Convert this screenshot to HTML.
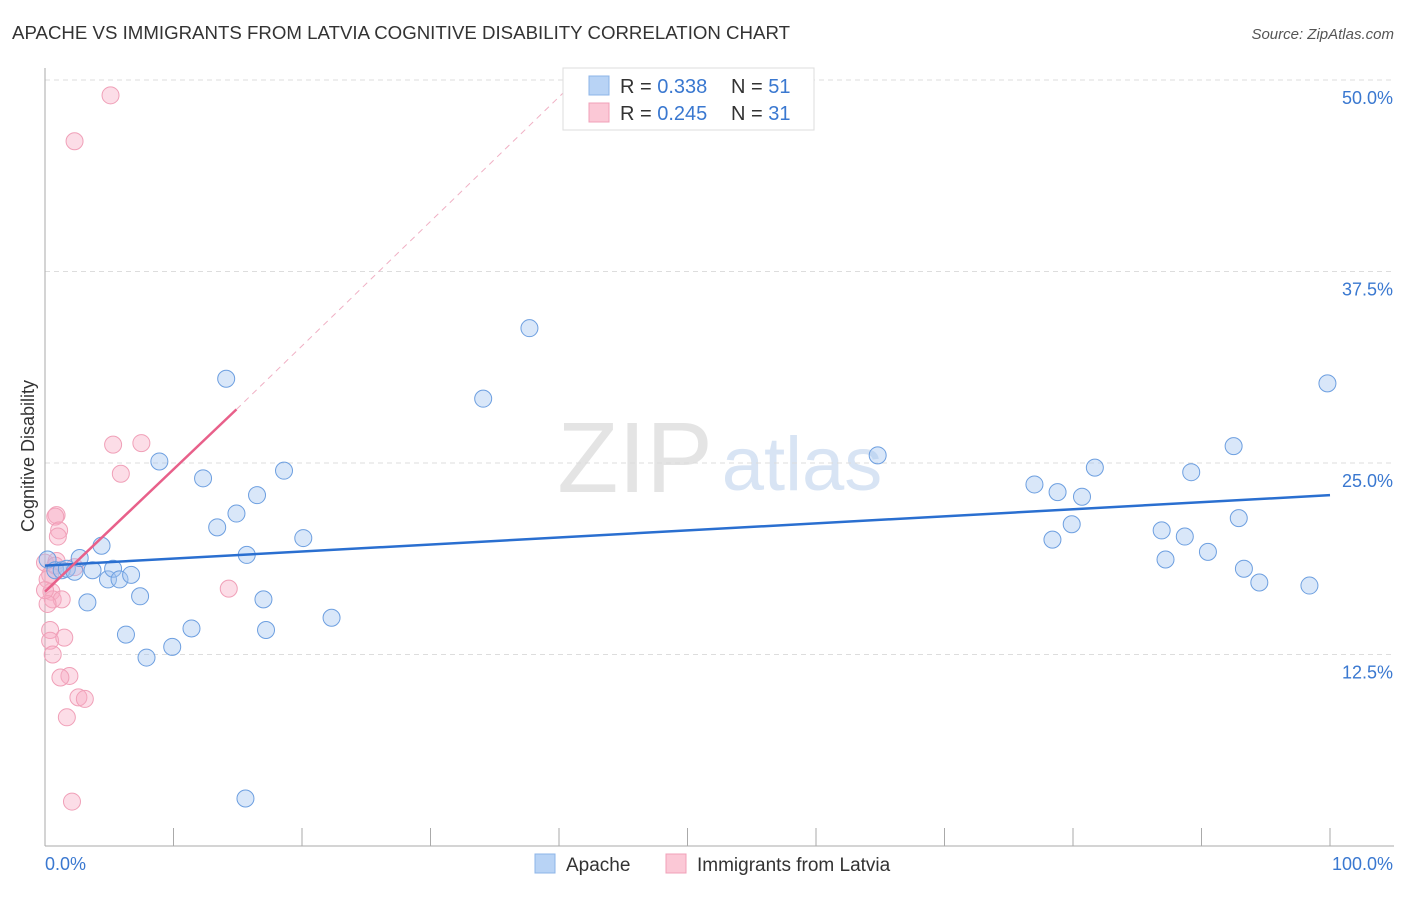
<!DOCTYPE html>
<html><head><meta charset="utf-8"><style>
body{margin:0;background:#fff;font-family:"Liberation Sans",sans-serif;}
svg text{font-family:"Liberation Sans",sans-serif;}
</style></head><body>
<svg width="1406" height="892" xmlns="http://www.w3.org/2000/svg">
<text x="12" y="39" font-size="18" fill="#333" textLength="778" lengthAdjust="spacingAndGlyphs">APACHE VS IMMIGRANTS FROM LATVIA COGNITIVE DISABILITY CORRELATION CHART</text>
<text x="1394" y="39" font-size="15" fill="#555" text-anchor="end" font-style="italic">Source: ZipAtlas.com</text>
<text x="635" y="492" font-size="100" fill="#e4e4e4" text-anchor="middle" font-family="Liberation Serif">ZIP</text>
<text x="802" y="490" font-size="76" fill="#d8e4f4" text-anchor="middle">atlas</text>
<g id="grid"></g>
<g id="axes"></g>
<g id="marks"></g>
<text x="34" y="456" font-size="18" fill="#333" text-anchor="middle" transform="rotate(-90 34 456)">Cognitive Disability</text>
<g>
<rect x="563" y="68" width="251" height="62" fill="#fff" stroke="#ddd"/>
<rect x="589" y="76" width="20" height="19" fill="#b8d3f5" stroke="#8db4e8"/>
<rect x="589" y="103" width="20" height="19" fill="#fbc8d6" stroke="#f0a0b8"/>
<text x="620" y="93" font-size="20" fill="#333">R = <tspan fill="#3a78d0">0.338</tspan></text>
<text x="731" y="93" font-size="20" fill="#333">N = <tspan fill="#3a78d0">51</tspan></text>
<text x="620" y="120" font-size="20" fill="#333">R = <tspan fill="#3a78d0">0.245</tspan></text>
<text x="731" y="120" font-size="20" fill="#333">N = <tspan fill="#3a78d0">31</tspan></text>
</g>
<g>
<rect x="535" y="854" width="20" height="19" fill="#b8d3f5" stroke="#8db4e8"/>
<text x="566" y="871" font-size="19" fill="#333">Apache</text>
<text x="697" y="871" font-size="19" fill="#333">Immigrants from Latvia</text>
<rect x="666" y="854" width="20" height="19" fill="#fbc8d6" stroke="#f0a0b8"/>
</g>
</svg>
<script>
const yTicks=[12.5,25,37.5,50];
const yTickLabels=["12.5%","25.0%","37.5%","50.0%"];
const xTicks=[0,10,20,30,40,50,60,70,80,90,100];
const apacheX=[0.2,0.8,1.3,1.7,2.3,2.7,3.3,3.7,4.4,4.9,5.3,5.8,6.7,6.3,7.4,7.9,8.9,9.9,11.4,12.3,13.4,14.1,14.9,15.7,16.5,17.0,17.2,18.6,15.6,20.1,22.3,34.1,37.7,64.8,77.0,78.4,78.8,79.9,80.7,81.7,86.9,87.2,88.7,89.2,90.5,92.5,92.9,93.3,94.5,98.4,99.8];
const apacheY=[18.7,18.0,18.0,18.1,17.9,18.8,15.9,18.0,19.6,17.4,18.1,17.4,17.7,13.8,16.3,12.3,25.1,13.0,14.2,24.0,20.8,30.5,21.7,19.0,22.9,16.1,14.1,24.5,3.1,20.1,14.9,29.2,33.8,25.5,23.6,20.0,23.1,21.0,22.8,24.7,20.6,18.7,20.2,24.4,19.2,26.1,21.4,18.1,17.2,17.0,30.2];
const latviaX=[5.1,2.3,5.3,7.5,5.9,0.9,0.8,1.1,1.0,0,0.9,0.4,0.2,2.3,0.5,0.6,1.3,0.2,0.4,0.4,1.5,0.6,1.9,1.2,2.6,3.1,1.7,2.1,14.3,0,0.8];
const latviaY=[49.0,46.0,26.2,26.3,24.3,21.6,21.5,20.6,20.2,18.5,18.6,17.7,17.4,18.2,16.6,16.1,16.1,15.8,14.1,13.4,13.6,12.5,11.1,11.0,9.7,9.6,8.4,2.9,16.8,16.7,18.3];
const apacheTrend=[[0,18.3],[100,22.9]];
const latviaTrend=[[0,16.6],[14.9,28.5]];
const latviaTrendDash=[[14.9,28.5],[40.5,49.3]];
const X=v=>45+v*12.85, Y=v=>846-v*15.32;
const NS="http://www.w3.org/2000/svg";
function mk(p,t,a){const e=document.createElementNS(NS,t);for(const k in a)e.setAttribute(k,a[k]);p.appendChild(e);return e;}
const grid=document.getElementById('grid'),axes=document.getElementById('axes'),marks=document.getElementById('marks');
yTicks.forEach((t,i)=>{
 const l=mk(grid,'line',{x1:45,x2:1394,y1:Y(t),y2:Y(t),stroke:'#ddd','stroke-dasharray':'5,4'});
 
 
 const tx=mk(axes,'text',{x:1393,y:Y(t)+24,'font-size':18,fill:'#3a78d0','text-anchor':'end'});
 tx.textContent=yTickLabels[i];
 
 
});
let a=mk(axes,'line',{x1:45,x2:45,y1:68,y2:846,stroke:'#aaa'});


a=mk(axes,'line',{x1:45,x2:1394,y1:846,y2:846,stroke:'#aaa'});


xTicks.forEach(t=>{
 const l=mk(axes,'line',{x1:X(t),x2:X(t),y1:846,y2:828,stroke:'#aaa'});
 
 
});
let t=mk(axes,'text',{x:45,y:870,'font-size':18,fill:'#3a78d0'});t.textContent='0.0%';


t=mk(axes,'text',{x:1393,y:870,'font-size':18,fill:'#3a78d0','text-anchor':'end'});t.textContent='100.0%';


latviaX.forEach((v,i)=>{
 const c=mk(marks,'circle',{cx:X(v),cy:Y(latviaY[i]),r:8.5,fill:'rgba(248,170,195,0.4)',stroke:'#f0a0b8','stroke-width':1});
 
 
});
apacheX.forEach((v,i)=>{
 const c=mk(marks,'circle',{cx:X(v),cy:Y(apacheY[i]),r:8.5,fill:'rgba(160,196,240,0.4)',stroke:'#6d9fe0','stroke-width':1});
 
 
});
let tl=mk(marks,'line',{x1:X(apacheTrend[0][0]),y1:Y(apacheTrend[0][1]),x2:X(apacheTrend[1][0]),y2:Y(apacheTrend[1][1]),stroke:'#2a6fd0','stroke-width':2.5});


tl=mk(marks,'line',{x1:X(latviaTrend[0][0]),y1:Y(latviaTrend[0][1]),x2:X(latviaTrend[1][0]),y2:Y(latviaTrend[1][1]),stroke:'#e8608a','stroke-width':2.5});


tl=mk(marks,'line',{x1:X(latviaTrendDash[0][0]),y1:Y(latviaTrendDash[0][1]),x2:X(latviaTrendDash[1][0]),y2:Y(latviaTrendDash[1][1]),stroke:'#f0b0c4','stroke-width':1,'stroke-dasharray':'6,5'});


</script>
</body></html>
